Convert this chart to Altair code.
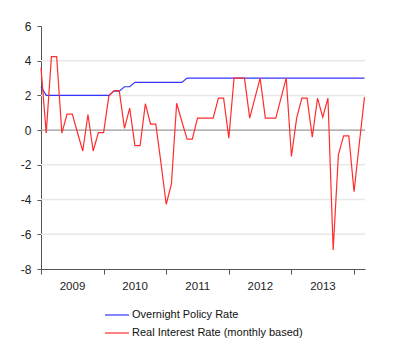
import altair as alt
import pandas as pd

years = ["2009", "2010", "2011", "2012", "2013"]
series_names = ["Overnight Policy Rate", "Real Interest Rate (monthly based)"]

# Monthly observations, Jan 2009 .. Mar 2014
policy_rate = (
    [2.5] + [2.0] * 13 + [2.25, 2.25, 2.5, 2.5] + [2.75] * 10 + [3.0] * 35
)
real_rate = [
    3.6, -0.17, 4.24, 4.24, -0.17, 0.92, 0.92, -0.15, -1.2, 0.9, -1.2, -0.14,
    -0.14, 1.96, 2.28, 2.28, 0.1, 1.27, -0.89, -0.89, 1.52, 0.35, 0.35, -1.9,
    -4.27, -3.1, 1.55, 0.5, -0.52, -0.52, 0.69, 0.69, 0.69, 0.69, 1.84, 1.84,
    -0.46, 3.0, 3.0, 3.0, 0.69, 1.85, 3.0, 0.69, 0.69, 0.69, 1.85, 3.0,
    -1.52, 0.69, 1.84, 1.84, -0.4, 1.84, 0.75, 1.84, -6.9, -1.42, -0.33, -0.33,
    -3.55, -0.8, 1.9,
]
y_ticks = [-8, -6, -4, -2, 0, 2, 4, 6]
grid_ticks = [-6, -4, -2, 2, 4]
zero_line = [0]

rows = []
for i, v in enumerate(policy_rate):
    rows.append({"m": i, "v": v, "s": series_names[0], "o": 0})
for i, v in enumerate(real_rate):
    rows.append({"m": i, "v": v, "s": series_names[1], "o": 1})
df = pd.DataFrame(rows)

year_expr = "[" + ",".join("'%s'" % y for y in years) + "][datum.value / 12] || ''"

x_axis = alt.Axis(
    values=[0, 12, 24, 36, 48, 60],
    labelExpr=year_expr,
    labelOffset=31,
    labelOverlap=False,
    labelFlush=False,
    labelBound=False,
    title=None,
    grid=False,
    tickSize=5,
    labelPadding=6,
    domainColor="#555555",
    tickColor="#555555",
    labelFontSize=11.5,
    labelColor="#222222",
    labelFont="Liberation Sans",
)
y_axis = alt.Axis(
    values=y_ticks,
    labelExpr="'' + datum.value",
    labelOverlap=False,
    labelFlush=False,
    title=None,
    grid=False,
    tickSize=4,
    labelPadding=6,
    domainColor="#555555",
    tickColor="#555555",
    labelFontSize=12,
    labelColor="#222222",
    labelFont="Liberation Sans",
)
y_scale = alt.Scale(domain=[-8, 6], nice=False)

grid = alt.Chart(pd.DataFrame({"g": grid_ticks})).mark_rule(
    color="#e8e8e8", strokeWidth=1.5
).encode(y=alt.Y("g:Q", scale=y_scale, axis=y_axis))

zero = alt.Chart(pd.DataFrame({"z": zero_line})).mark_rule(
    color="#999999", strokeWidth=1.2
).encode(y=alt.Y("z:Q", scale=y_scale, axis=y_axis))

lines = alt.Chart(df).mark_line(strokeWidth=1.2).encode(
    x=alt.X("m:Q", scale=alt.Scale(domain=[0, 62.1], nice=False, zero=False), axis=x_axis),
    y=alt.Y("v:Q", scale=y_scale, axis=y_axis),
    color=alt.Color(
        "s:N",
        scale=alt.Scale(domain=series_names, range=["#3535ff", "#ff2d2d"]),
        legend=alt.Legend(
            title=None,
            orient="none",
            legendX=63,
            legendY=276,
            symbolType="stroke",
            symbolSize=576,
            symbolStrokeWidth=1.2,
            labelFontSize=11,
            labelFont="Liberation Sans",
            labelColor="#111111",
            labelLimit=400,
            rowPadding=-16,
            padding=0,
            labelOffset=2,
        ),
    ),
    order="o:Q",
)

chart = (
    alt.layer(grid, zero, lines)
    .properties(
        width=324,
        height=243,
        padding={"left": 33, "top": 18, "right": 27, "bottom": 82},
        autosize=alt.AutoSizeParams(type="none"),
    )
    .configure_view(stroke=None)
)

chart.save("out.html", embed_options={"renderer": "svg", "actions": False})
